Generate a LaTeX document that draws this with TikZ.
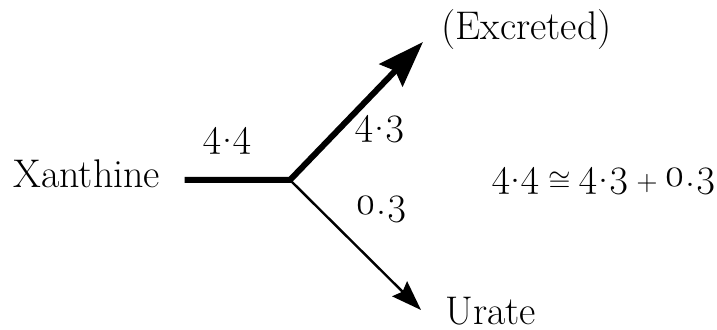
\documentclass[tikz,border=0pt]{standalone}
\usepackage{amsmath}
\usepackage{amssymb}
\usepackage{fontspec}
\setmainfont{Latin Modern Roman}[Numbers=OldStyle]
\usepackage{tikz}
\usetikzlibrary{arrows.meta, positioning}

\newcommand{\dt}{\raisebox{0.25ex}{.}}
\newcommand{\smallsym}[1]{\raisebox{-0.2ex}{\fontsize{14}{14}\selectfont #1}}

\begin{document}
\begin{tikzpicture}[
        x=0.5pt, y=-0.5pt,
        every node/.style={font=\fontsize{20}{24}\selectfont, inner sep=0pt},
        mainflow/.style={line width=3pt,
          -{Stealth[length=23pt, width=16pt, inset=3pt]}},
        sideflow/.style={line width=1.2pt,
          -{Stealth[length=15pt, width=10.5pt, inset=2pt]}},
      ]
      \useasboundingbox (0,0) rectangle (717,330);

      \node[anchor=base west] (xan)   at (13,188)  {Xanthine};
      \node[anchor=base west] (exc)   at (441,40)  {(Excreted)};
      \node[anchor=base west] (urate) at (445,325) {Urate};

      \coordinate (junc)   at (290,180);
      \coordinate (excTip) at (423,42);
      \coordinate (urTip)  at (421,310);

      \node[anchor=base] (lblIn)  at (227,147) {4\dt4};
      \node[anchor=base] (lblExc) at (380,135) {4\dt3};
      \node[anchor=base] (lblUr)  at (382,215) {0.3};
      \node[anchor=base west] (balance) at (491,187)
        {4\dt4\hspace{4pt}\smallsym{$\cong$}\hspace{4pt}4\dt3\,\smallsym{+}\,0.3};

      \draw[mainflow, shorten <=12pt] (xan.east |- junc) -- (junc) -- (excTip);
      \draw[sideflow] (junc) -- (urTip);

    \end{tikzpicture}
\end{document}
